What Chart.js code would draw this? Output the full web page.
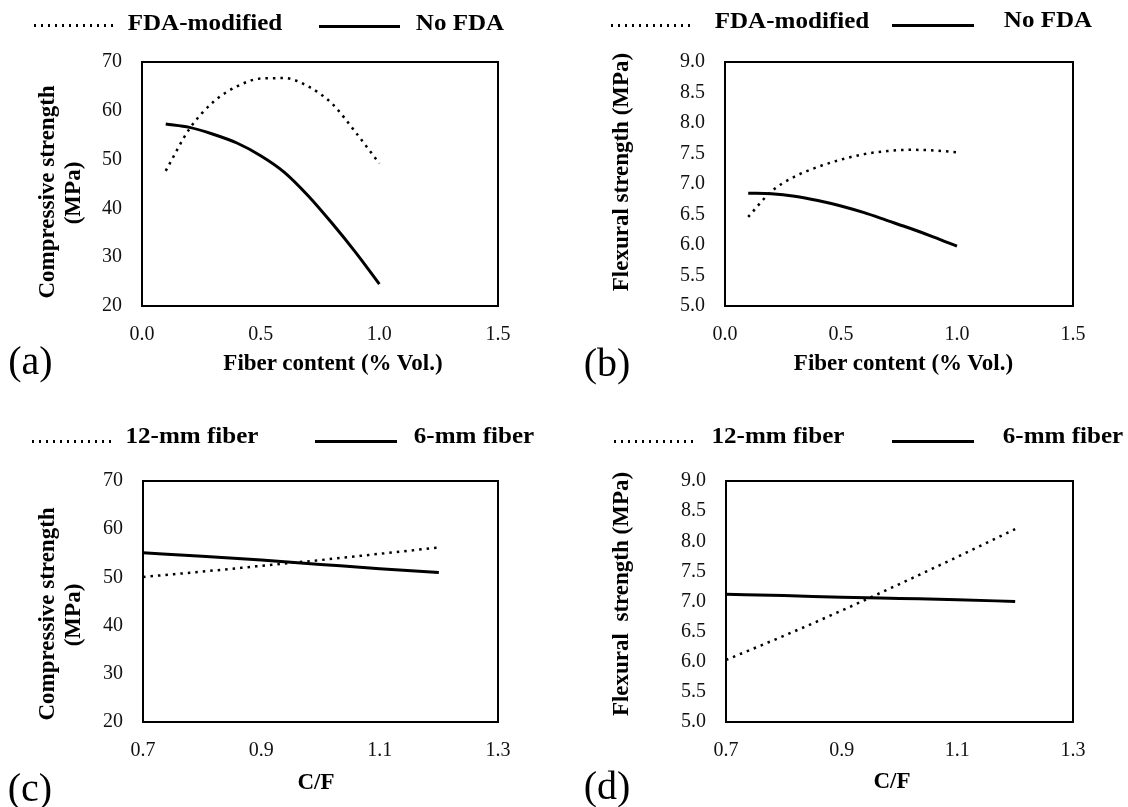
<!DOCTYPE html>
<html><head><meta charset="utf-8">
<script src="https://cdn.jsdelivr.net/npm/chart.js@4.4.1/dist/chart.umd.min.js"></script>
<style>
html,body{margin:0;padding:0;background:#fff;}
#wrap{position:relative;width:1128px;height:807px;overflow:hidden;font-family:'Liberation Serif','Times New Roman',serif;color:#000;background:#fff;}
canvas{position:absolute;}
.t{position:absolute;white-space:pre;line-height:1;transform:translate(-50%,-50%);z-index:2;}
.b{font-weight:bold;font-size:23px;}
.lg{font-weight:bold;font-size:23px;transform:translate(-50%,-50%) scaleX(1.09);}
.lab{font-size:40px;}
.rot{transform:translate(-50%,-50%) rotate(-90deg);}
.dots{position:absolute;height:3px;z-index:2;background-image:linear-gradient(to right,#000 0,#000 2.5px,transparent 2.5px);background-size:7px 3px;}
.solid{position:absolute;height:3px;background:#000;z-index:2;}
</style></head>
<body><div id="wrap">
<canvas id="ca"></canvas><canvas id="cb"></canvas><canvas id="cc"></canvas><canvas id="cd"></canvas>

<div class="dots" style="left:34px;top:23.5px;width:82px"></div>
<div class="t lg" style="left:205px;top:22px">FDA-modified</div>
<div class="solid" style="left:319px;top:24.5px;width:81px"></div>
<div class="t lg" style="left:460px;top:22px">No FDA</div>
<div class="t b rot" style="left:46px;top:191.5px">Compressive strength</div>
<div class="t b rot" style="left:71.5px;top:193px">(MPa)</div>
<div class="t b" style="left:333px;top:362px">Fiber content (% Vol.)</div>
<div class="t lab" style="left:30.5px;top:361px">(a)</div>

<div class="dots" style="left:611px;top:23.5px;width:81px"></div>
<div class="t lg" style="left:792px;top:20px">FDA-modified</div>
<div class="solid" style="left:892px;top:23.5px;width:82px"></div>
<div class="t lg" style="left:1047.5px;top:18.5px">No FDA</div>
<div class="t b rot" style="left:620px;top:172px">Flexural strength (MPa)</div>
<div class="t b" style="left:903.5px;top:362px">Fiber content (% Vol.)</div>
<div class="t lab" style="left:607px;top:363px">(b)</div>

<div class="dots" style="left:32px;top:440px;width:84px"></div>
<div class="t lg" style="left:192px;top:435px">12-mm fiber</div>
<div class="solid" style="left:315px;top:440px;width:82px"></div>
<div class="t lg" style="left:474px;top:435px">6-mm fiber</div>
<div class="t b rot" style="left:46px;top:614px">Compressive strength</div>
<div class="t b rot" style="left:71.5px;top:615px">(MPa)</div>
<div class="t b" style="left:316px;top:781px">C/F</div>
<div class="t lab" style="left:30px;top:788px">(c)</div>

<div class="dots" style="left:614px;top:440px;width:83px"></div>
<div class="t lg" style="left:778px;top:435px">12-mm fiber</div>
<div class="solid" style="left:892px;top:440px;width:82px"></div>
<div class="t lg" style="left:1062.5px;top:435px">6-mm fiber</div>
<div class="t b rot" style="left:620px;top:594px">Flexural  strength (MPa)</div>
<div class="t b" style="left:892px;top:780px">C/F</div>
<div class="t lab" style="left:607px;top:786px">(d)</div>
</div>
<script>
// ---- data ----
const fiberContent = [0.1, 0.2, 0.3, 0.4, 0.5, 0.6, 0.7, 0.8, 0.9, 1.0];
const compFDA   = [47.7, 56.3, 61.8, 65.0, 66.6, 66.7, 65.0, 61.5, 55.6, 49.2];
const compNoFDA = [57.3, 56.6, 55.2, 53.4, 50.8, 47.4, 42.6, 37.0, 31.0, 24.5];
const flexFDA   = [6.46, 6.88, 7.12, 7.28, 7.40, 7.49, 7.54, 7.56, 7.55, 7.52];
const flexNoFDA = [6.85, 6.84, 6.80, 6.73, 6.64, 6.53, 6.40, 6.27, 6.13, 5.98];

const cfRatio = [0.7, 0.8, 0.9, 1.0, 1.1, 1.2];
const comp12mm = [50.1, 51.2, 52.4, 53.6, 54.9, 56.2];
const comp6mm  = [55.1, 54.4, 53.6, 52.7, 51.8, 51.0];
const flex12mm = [6.03, 6.43, 6.85, 7.29, 7.74, 8.20];
const flex6mm  = [7.12, 7.10, 7.07, 7.05, 7.03, 7.00];

const fiberTicks = [0, 0.5, 1.0, 1.5];
const fiberTickLabels = ['0.0', '0.5', '1.0', '1.5'];
const cfTicks = [0.7, 0.9, 1.1, 1.3];
const cfTickLabels = ['0.7', '0.9', '1.1', '1.3'];
const compTicks = [20, 30, 40, 50, 60, 70];
const compTickLabels = ['20', '30', '40', '50', '60', '70'];
const flexTicks = [5.0, 5.5, 6.0, 6.5, 7.0, 7.5, 8.0, 8.5, 9.0];
const flexTickLabels = ['5.0', '5.5', '6.0', '6.5', '7.0', '7.5', '8.0', '8.5', '9.0'];

// ---- drawing ----
const FONT = "'Liberation Serif','Times New Roman',serif";
const boxPlugin = {id:'box', afterDraw(ch){
  const a = ch.chartArea, g = ch.ctx;
  g.save(); g.strokeStyle = '#000'; g.lineWidth = 2;
  g.strokeRect(a.left, a.top, a.right - a.left, a.bottom - a.top);
  g.restore();
}};

function panel(id, left, top, w, h, area, xs, ys, series) {
  const c = document.getElementById(id);
  c.width = w; c.height = h;
  c.style.left = left + 'px'; c.style.top = top + 'px';
  c.style.width = w + 'px'; c.style.height = h + 'px';
  new Chart(c, {
    type: 'line',
    data: {datasets: series.map(s => ({
      data: s.x.map((x, i) => ({x: x, y: s.y[i]})),
      borderColor: '#000',
      borderWidth: s.dash ? 2.5 : 3,
      borderDash: s.dash ? [2.5, 5] : [],
      pointRadius: 0, fill: false,
      cubicInterpolationMode: 'monotone'
    }))},
    options: {
      responsive: false, animation: false, devicePixelRatio: 1,
      layout: {padding: {left: 0, top: area.top, right: w - area.right, bottom: 0}},
      plugins: {legend: {display: false}, tooltip: {enabled: false}},
      scales: {
        x: {
          type: 'linear', min: xs.ticks[0], max: xs.ticks[xs.ticks.length - 1],
          grid: {display: false, drawTicks: false}, border: {display: false},
          afterFit: s => { s.height = h - area.bottom; },
          afterBuildTicks: s => { s.ticks = xs.ticks.map(v => ({value: v})); },
          ticks: {autoSkip: false, maxRotation: 0, padding: 17, color: '#111',
                  font: {family: FONT, size: 20}, callback: (v, i) => xs.labels[i]}
        },
        y: {
          type: 'linear', min: ys.ticks[0], max: ys.ticks[ys.ticks.length - 1],
          grid: {display: false, drawTicks: false}, border: {display: false},
          afterFit: s => { s.width = area.left; },
          afterBuildTicks: s => { s.ticks = ys.ticks.map(v => ({value: v})); },
          ticks: {autoSkip: false, padding: 20, color: '#111',
                  font: {family: FONT, size: 20}, callback: (v, i) => ys.labels[i]}
        }
      }
    },
    plugins: [boxPlugin]
  });
}

const fiberX = {ticks: fiberTicks, labels: fiberTickLabels};
const cfX = {ticks: cfTicks, labels: cfTickLabels};
const compY = {ticks: compTicks, labels: compTickLabels};
const flexY = {ticks: flexTicks, labels: flexTickLabels};

panel('ca', 0, 0, 564, 400, {left: 142, right: 498, top: 62, bottom: 306}, fiberX, compY, [
  {x: fiberContent, y: compFDA, dash: true},
  {x: fiberContent, y: compNoFDA, dash: false}
]);
panel('cb', 564, 0, 564, 400, {left: 161, right: 509, top: 62, bottom: 306}, fiberX, flexY, [
  {x: fiberContent, y: flexFDA, dash: true},
  {x: fiberContent, y: flexNoFDA, dash: false}
]);
panel('cc', 0, 400, 564, 407, {left: 143, right: 498, top: 81, bottom: 322}, cfX, compY, [
  {x: cfRatio, y: comp12mm, dash: true},
  {x: cfRatio, y: comp6mm, dash: false}
]);
panel('cd', 564, 400, 564, 407, {left: 162, right: 509, top: 81, bottom: 322}, cfX, flexY, [
  {x: cfRatio, y: flex12mm, dash: true},
  {x: cfRatio, y: flex6mm, dash: false}
]);
</script>
</body></html>
